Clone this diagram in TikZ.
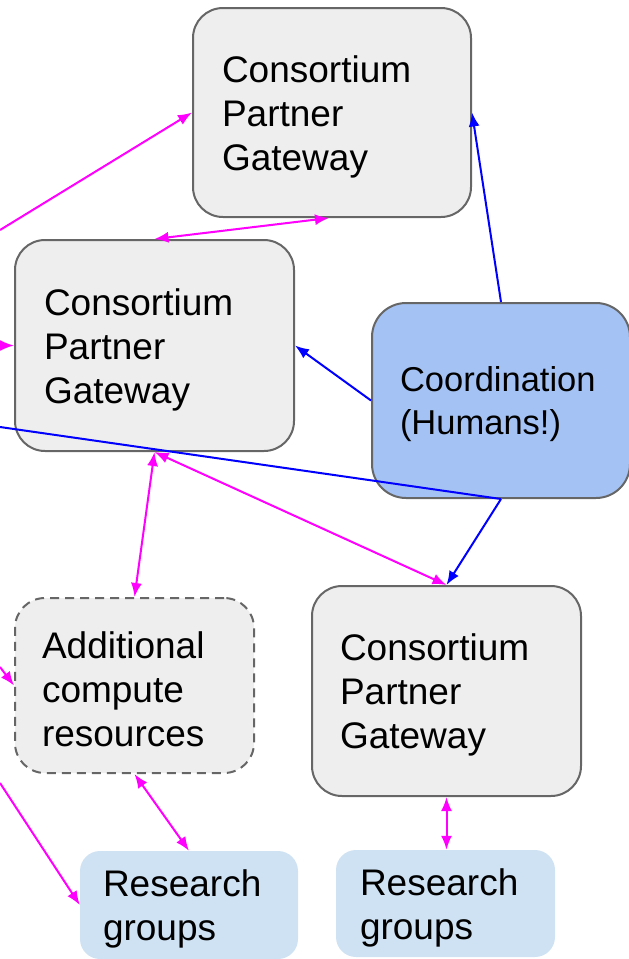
\documentclass[tikz,border=0pt]{standalone}
\usepackage{fontspec}
\setmainfont{Liberation Sans}
\usetikzlibrary{arrows.meta,calc}
\definecolor{boxgray}{HTML}{EEEEEE}
\definecolor{edgegray}{HTML}{666666}
\definecolor{coordblue}{HTML}{A4C2F4}
\definecolor{resblue}{HTML}{CFE2F3}
\definecolor{mag}{HTML}{FF00FF}
\definecolor{blu}{HTML}{0000FF}
\begin{document}
\begin{tikzpicture}[x=1pt,y=-1pt,
  basebox/.style={inner sep=0pt},
  txt/.style={inner sep=0pt, align=left, font=\fontsize{37}{44}\selectfont},
  gwbox/.style={basebox, draw=edgegray, line width=2pt, fill=boxgray, rounded corners=30pt},
  coordbox/.style={basebox, draw=edgegray, line width=2pt, fill=coordblue, rounded corners=34pt},
  dashbox/.style={basebox, draw=edgegray, line width=2pt, fill=boxgray, rounded corners=30pt, dash pattern=on 9pt off 6pt},
  resbox/.style={basebox, fill=resblue, rounded corners=20pt},
  magline/.style={draw=mag, line width=2pt},
  blueline/.style={draw=blu, line width=2pt},
  tip/.style={-{Latex[length=14pt,width=11pt]}},
  dtip/.style={{Latex[length=14pt,width=11pt]}-{Latex[length=14pt,width=11pt]}}
]
\useasboundingbox (0,0) rectangle (629,959);

\node[gwbox, minimum width=278pt, minimum height=209pt] (tc) at (332,112.5) {};
\node[gwbox, minimum width=279pt, minimum height=211pt] (mc) at (154.5,345.5) {};
\node[coordbox, minimum width=258pt, minimum height=195pt] (co) at (501,400.5) {};
\node[gwbox, minimum width=269pt, minimum height=210pt] (rc) at (446.5,691) {};
\node[dashbox, minimum width=239pt, minimum height=175pt] (ad) at (134.5,685.5) {};
\node[resbox, minimum width=218pt, minimum height=108pt] (rl) at (189,905) {};
\node[resbox, minimum width=219pt, minimum height=107pt] (rr) at (445.5,903.5) {};

\node[txt, text width=220pt] (tct) at ([yshift=-4pt]tc.center) {Consortium\\Partner\\Gateway};
\node[txt, text width=221pt] (mct) at ([yshift=-4pt]mc.center) {Consortium\\Partner\\Gateway};
\node[txt, text width=202pt, font=\fontsize{34.5}{43}\selectfont] (cot) at ([yshift=-4pt]co.center) {Coordination\\(Humans!)};
\node[txt, text width=213pt] (rct) at ([yshift=-4pt]rc.center) {Consortium\\Partner\\Gateway};
\node[txt, text width=185pt] (adt) at ([yshift=-4pt]ad.center) {Additional\\compute\\resources};
\node[txt, text width=172pt] (rlt) at ([yshift=-4pt]rl.center) {Research\\groups};
\node[txt, text width=171pt] (rrt) at ([yshift=-4pt]rr.center) {Research\\groups};

\coordinate (L1) at (0,230);
\coordinate (L2) at (0,345.5);
\coordinate (L3) at (0,427);
\coordinate (L4) at (0,667);
\coordinate (L5) at (0,783);

% magenta connectors
\draw[magline, tip] (L1) -- (tc.west);
\draw[magline, tip] (L2) -- (mc.west);
\draw[magline, tip] (L4) -- (ad.west);
\draw[magline, tip] (L5) -- (rl.west);
\draw[magline, dtip] ([xshift=-3pt]tc.south) -- (mc.north);
\draw[magline, dtip] (mc.south) -- (ad.north);
\draw[magline, dtip] (mc.south) -- (rc.north);
\draw[magline, dtip] (ad.south) -- (rl.north);
\draw[magline, dtip] (rc.south) -- (rc.south |- rr.north);

% blue connectors
\draw[blueline] (co.south) -- (L3);
\draw[blueline, tip] (co.south) -- (rc.north);
\draw[blueline, tip] (co.north) -- (tc.east);
\draw[blueline, tip] (co.west) -- (mc.east);
\end{tikzpicture}
\end{document}
